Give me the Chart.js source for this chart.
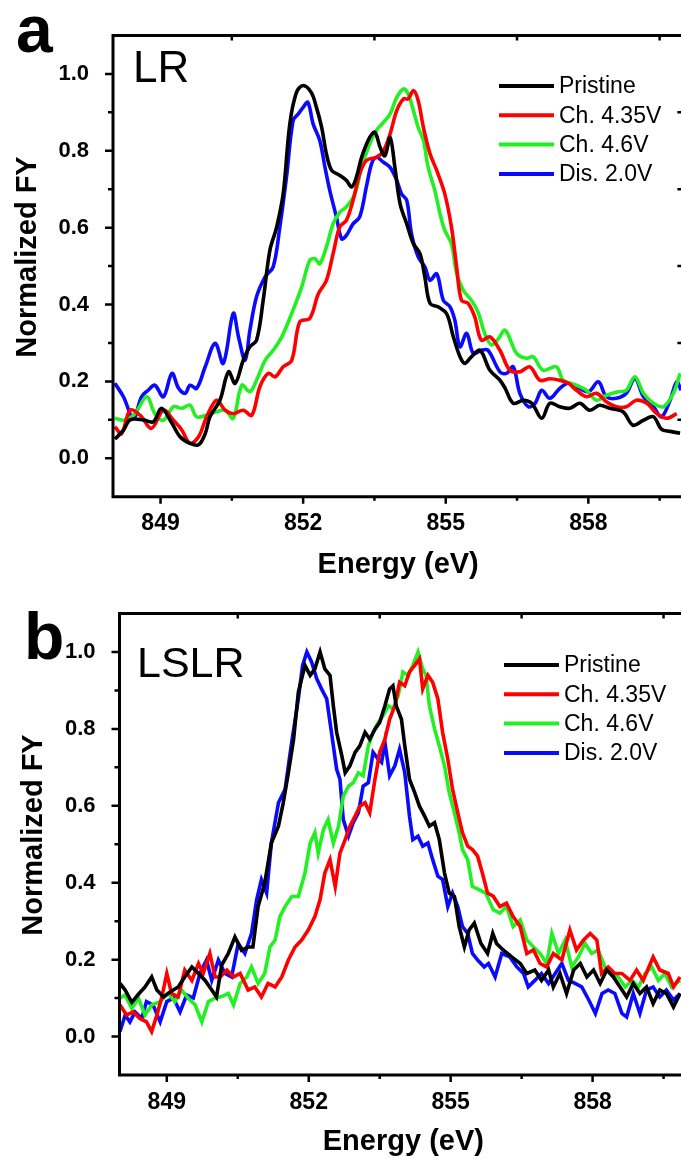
<!DOCTYPE html>
<html>
<head>
<meta charset="utf-8">
<script src="https://cdn.jsdelivr.net/npm/chart.js@4.4.1/dist/chart.umd.min.js"></script>
<style>
  html, body { margin: 0; padding: 0; background: #fff; overflow: hidden; }
  #figure { width: 681px; height: 1159px; position: relative; overflow: hidden; }
  canvas { position: absolute; left: 0; }
  #chartA { top: 0; }
  #chartB { top: 578px; }
  .panel-letter {
    position: absolute;
    font-family: "Liberation Sans", Arial, sans-serif;
    font-weight: bold;
    font-size: 66px;
    line-height: 1;
  }
</style>
</head>
<body>
<div id="figure">
  <canvas id="chartA" width="700" height="590"></canvas>
  <canvas id="chartB" width="700" height="581"></canvas>
  <div class="panel-letter" style="left:16px; top:-4px;">a</div>
  <div class="panel-letter" style="left:24px; top:603px;">b</div>
</div>

<script>
// axis ticks and labels
const energyTicks = [849, 850.5, 852, 853.5, 855, 856.5, 858, 859.5];
const energyLabels = [849, 852, 855, 858];
const fyTicks = [0, 0.1, 0.2, 0.3, 0.4, 0.5, 0.6, 0.7, 0.8, 0.9, 1.0];
const fyLabels = [0, 0.2, 0.4, 0.6, 0.8, 1.0];

const seriesNames = ["Pristine", "Ch. 4.35V", "Ch. 4.6V", "Dis. 2.0V"];
const seriesColors = ["#000000", "#ff0000", "#22f022", "#0a0aff"];

// ---- panel a : LR ----
const lrPristineE = [
  848.04, 848.22, 848.36, 848.64, 848.85, 849.02, 849.24, 849.41, 849.62, 849.80,
  849.94, 850.04, 850.25, 850.43, 850.57, 850.74, 850.88, 851.02, 851.16, 851.30,
  851.44, 851.58, 851.72, 851.86, 852.00, 852.17, 852.28, 852.39, 852.49, 852.60,
  852.77, 852.91, 853.02, 853.12, 853.23, 853.40, 853.51, 853.62, 853.72, 853.83,
  853.93, 854.04, 854.18, 854.32, 854.46, 854.56, 854.67, 854.84, 855.02, 855.16,
  855.30, 855.40, 855.54, 855.72, 855.93, 856.14, 856.25, 856.42, 856.63, 856.81,
  857.02, 857.19, 857.40, 857.61, 857.82, 858.03, 858.24, 858.45, 858.73, 858.94,
  859.16, 859.37, 859.54, 859.72, 859.93
];
const lrPristineFY = [
  0.050, 0.073, 0.100, 0.100, 0.095, 0.130, 0.091, 0.056, 0.039, 0.035,
  0.064, 0.108, 0.151, 0.225, 0.195, 0.255, 0.290, 0.307, 0.411, 0.541,
  0.600, 0.688, 0.870, 0.952, 0.970, 0.952, 0.913, 0.861, 0.792, 0.749,
  0.736, 0.723, 0.706, 0.731, 0.783, 0.835, 0.848, 0.809, 0.787, 0.835,
  0.757, 0.662, 0.610, 0.558, 0.532, 0.472, 0.403, 0.394, 0.376, 0.316,
  0.264, 0.247, 0.264, 0.281, 0.229, 0.203, 0.182, 0.143, 0.151, 0.143,
  0.104, 0.143, 0.134, 0.130, 0.143, 0.125, 0.138, 0.130, 0.121, 0.086,
  0.099, 0.108, 0.075, 0.070, 0.065
];

const lr435E = [
  848.04, 848.18, 848.36, 848.57, 848.81, 849.06, 849.27, 849.45, 849.62, 849.80,
  849.97, 850.18, 850.36, 850.53, 850.74, 850.92, 851.09, 851.27, 851.41, 851.58,
  851.76, 851.93, 852.14, 852.32, 852.49, 852.63, 852.77, 852.91, 853.05, 853.19,
  853.33, 853.54, 853.69, 853.83, 853.97, 854.11, 854.21, 854.32, 854.42, 854.53,
  854.67, 854.81, 854.98, 855.12, 855.23, 855.33, 855.47, 855.61, 855.75, 855.93,
  856.14, 856.35, 856.56, 856.77, 856.98, 857.19, 857.40, 857.58, 857.75, 857.96,
  858.17, 858.38, 858.59, 858.80, 859.01, 859.23, 859.44, 859.65, 859.86
];
const lr435FY = [
  0.082, 0.064, 0.125, 0.112, 0.078, 0.125, 0.099, 0.073, 0.039, 0.056,
  0.108, 0.151, 0.125, 0.116, 0.125, 0.112, 0.186, 0.221, 0.212, 0.238,
  0.255, 0.355, 0.364, 0.428, 0.463, 0.532, 0.602, 0.619, 0.671, 0.740,
  0.775, 0.783, 0.800, 0.844, 0.905, 0.935, 0.935, 0.957, 0.931, 0.861,
  0.792, 0.749, 0.688, 0.602, 0.497, 0.411, 0.403, 0.368, 0.307, 0.316,
  0.281, 0.229, 0.225, 0.238, 0.203, 0.207, 0.203, 0.195, 0.177, 0.160,
  0.169, 0.147, 0.134, 0.134, 0.151, 0.143, 0.116, 0.104, 0.116
];

const lr46E = [
  848.04, 848.25, 848.46, 848.71, 848.88, 849.06, 849.27, 849.45, 849.62, 849.76,
  849.97, 850.18, 850.36, 850.53, 850.71, 850.88, 851.02, 851.20, 851.37, 851.55,
  851.76, 851.97, 852.14, 852.25, 852.35, 852.49, 852.63, 852.77, 852.91, 853.09,
  853.23, 853.40, 853.54, 853.69, 853.83, 853.97, 854.11, 854.21, 854.32, 854.42,
  854.53, 854.63, 854.77, 854.88, 854.98, 855.12, 855.23, 855.37, 855.54, 855.68,
  855.82, 855.96, 856.10, 856.25, 856.49, 856.70, 856.84, 857.05, 857.33, 857.47,
  857.75, 857.96, 858.17, 858.38, 858.63, 858.80, 858.98, 859.16, 859.37, 859.58,
  859.79, 859.93
];
const lr46FY = [
  0.104, 0.099, 0.116, 0.160, 0.116, 0.099, 0.134, 0.130, 0.138, 0.108,
  0.112, 0.121, 0.125, 0.104, 0.190, 0.173, 0.203, 0.255, 0.281, 0.316,
  0.377, 0.446, 0.515, 0.519, 0.506, 0.550, 0.610, 0.640, 0.654, 0.688,
  0.757, 0.818, 0.853, 0.874, 0.896, 0.939, 0.961, 0.948, 0.905, 0.861,
  0.827, 0.757, 0.697, 0.636, 0.593, 0.558, 0.480, 0.437, 0.411, 0.380,
  0.325, 0.295, 0.310, 0.333, 0.273, 0.260, 0.264, 0.229, 0.238, 0.203,
  0.190, 0.177, 0.151, 0.164, 0.173, 0.177, 0.212, 0.169, 0.143, 0.134,
  0.169, 0.221
];

const lrDisE = [
  848.04, 848.22, 848.43, 848.60, 848.74, 848.88, 849.06, 849.24, 849.38, 849.52,
  849.62, 849.76, 849.94, 850.15, 850.32, 850.53, 850.64, 850.78, 850.88, 851.02,
  851.20, 851.37, 851.51, 851.65, 851.79, 851.90, 852.00, 852.10, 852.21, 852.35,
  852.46, 852.56, 852.70, 852.81, 852.91, 853.05, 853.19, 853.33, 853.44, 853.54,
  853.69, 853.83, 853.97, 854.07, 854.18, 854.28, 854.42, 854.56, 854.67, 854.81,
  854.95, 855.09, 855.19, 855.30, 855.44, 855.58, 855.75, 855.89, 856.14, 856.28,
  856.42, 856.56, 856.74, 856.88, 857.02, 857.19, 857.40, 857.58, 857.75, 858.00,
  858.21, 858.38, 858.59, 858.80, 858.98, 859.16, 859.37, 859.54, 859.72, 859.86,
  859.95
];
const lrDisFY = [
  0.195, 0.160, 0.104, 0.160, 0.177, 0.190, 0.160, 0.221, 0.182, 0.169,
  0.190, 0.182, 0.238, 0.299, 0.247, 0.377, 0.316, 0.255, 0.333, 0.420,
  0.472, 0.498, 0.602, 0.732, 0.879, 0.896, 0.913, 0.926, 0.870, 0.827,
  0.757, 0.697, 0.628, 0.571, 0.580, 0.610, 0.628, 0.706, 0.766, 0.783,
  0.770, 0.757, 0.723, 0.688, 0.671, 0.584, 0.524, 0.498, 0.463, 0.480,
  0.411, 0.394, 0.360, 0.290, 0.325, 0.273, 0.281, 0.281, 0.225, 0.221,
  0.238, 0.169, 0.134, 0.143, 0.177, 0.156, 0.182, 0.195, 0.186, 0.173,
  0.199, 0.160, 0.156, 0.169, 0.208, 0.160, 0.134, 0.108, 0.151, 0.199,
  0.177
];

// ---- panel b : LSLR ----
const lslrPristineE = [
  848.01, 848.12, 848.26, 848.40, 848.54, 848.68, 848.79, 848.93, 849.07, 849.24,
  849.38, 849.53, 849.67, 849.81, 849.95, 850.05, 850.16, 850.30, 850.44, 850.58,
  850.72, 850.82, 850.93, 851.07, 851.21, 851.36, 851.46, 851.57, 851.68, 851.78,
  851.92, 852.03, 852.13, 852.24, 852.34, 852.45, 852.52, 852.59, 852.70, 852.77,
  852.87, 852.98, 853.08, 853.19, 853.29, 853.40, 853.50, 853.61, 853.71, 853.78,
  853.85, 853.96, 854.03, 854.13, 854.24, 854.34, 854.45, 854.55, 854.66, 854.76,
  854.87, 854.97, 855.08, 855.18, 855.29, 855.39, 855.50, 855.64, 855.78, 855.89,
  855.97, 856.11, 856.29, 856.47, 856.61, 856.78, 856.92, 857.07, 857.17, 857.31,
  857.45, 857.60, 857.74, 857.88, 858.02, 858.16, 858.30, 858.44, 858.58, 858.72,
  858.86, 859.00, 859.14, 859.28, 859.42, 859.56, 859.71, 859.85
];
const lslrPristineFY = [
  0.138, 0.121, 0.089, 0.110, 0.129, 0.155, 0.121, 0.103, 0.116, 0.129,
  0.155, 0.181, 0.164, 0.146, 0.121, 0.103, 0.186, 0.216, 0.259, 0.224,
  0.233, 0.233, 0.338, 0.399, 0.503, 0.547, 0.607, 0.686, 0.773, 0.895,
  0.965, 0.939, 0.956, 1.000, 0.956, 0.939, 0.860, 0.791, 0.730, 0.686,
  0.704, 0.739, 0.756, 0.791, 0.773, 0.799, 0.817, 0.860, 0.904, 0.912,
  0.860, 0.825, 0.756, 0.669, 0.634, 0.599, 0.573, 0.547, 0.556, 0.512,
  0.425, 0.373, 0.364, 0.286, 0.233, 0.277, 0.295, 0.242, 0.216, 0.268,
  0.242, 0.225, 0.207, 0.190, 0.164, 0.173, 0.146, 0.173, 0.129, 0.164,
  0.112, 0.173, 0.190, 0.155, 0.173, 0.138, 0.173, 0.155, 0.129, 0.103,
  0.138, 0.112, 0.129, 0.086, 0.121, 0.112, 0.077, 0.112
];

const lslr435E = [
  848.01, 848.15, 848.29, 848.43, 848.57, 848.68, 848.79, 848.89, 849.00, 849.10,
  849.24, 849.38, 849.53, 849.67, 849.77, 849.91, 850.02, 850.13, 850.27, 850.41,
  850.55, 850.72, 850.86, 851.00, 851.14, 851.29, 851.43, 851.57, 851.71, 851.85,
  851.99, 852.13, 852.24, 852.34, 852.45, 852.56, 852.66, 852.77, 852.87, 852.98,
  853.08, 853.19, 853.29, 853.40, 853.50, 853.61, 853.71, 853.82, 853.92, 854.03,
  854.13, 854.24, 854.34, 854.41, 854.52, 854.62, 854.73, 854.83, 854.94, 855.04,
  855.15, 855.25, 855.36, 855.46, 855.57, 855.67, 855.78, 855.90, 856.04, 856.18,
  856.32, 856.47, 856.61, 856.75, 856.89, 857.03, 857.17, 857.35, 857.52, 857.66,
  857.81, 857.95, 858.09, 858.19, 858.33, 858.47, 858.62, 858.79, 858.93, 859.07,
  859.28, 859.42, 859.60, 859.71, 859.85
];
const lslr435FY = [
  0.082, 0.056, 0.064, 0.047, 0.038, 0.013, 0.056, 0.100, 0.164, 0.112,
  0.103, 0.173, 0.146, 0.190, 0.164, 0.216, 0.155, 0.155, 0.173, 0.155,
  0.164, 0.121, 0.129, 0.103, 0.138, 0.129, 0.155, 0.199, 0.233, 0.251,
  0.277, 0.312, 0.356, 0.425, 0.460, 0.390, 0.477, 0.512, 0.547, 0.573,
  0.599, 0.608, 0.582, 0.669, 0.739, 0.773, 0.825, 0.860, 0.921, 0.912,
  0.948, 0.965, 0.982, 0.904, 0.939, 0.921, 0.878, 0.791, 0.721, 0.643,
  0.582, 0.530, 0.495, 0.486, 0.469, 0.425, 0.373, 0.365, 0.338, 0.347,
  0.312, 0.286, 0.216, 0.225, 0.190, 0.181, 0.216, 0.199, 0.277, 0.225,
  0.251, 0.268, 0.251, 0.164, 0.181, 0.164, 0.164, 0.146, 0.173, 0.146,
  0.207, 0.173, 0.164, 0.129, 0.155
];

const lslr46E = [
  848.01, 848.12, 848.26, 848.40, 848.54, 848.68, 848.86, 849.03, 849.17, 849.31,
  849.45, 849.60, 849.74, 849.88, 850.02, 850.16, 850.30, 850.41, 850.55, 850.69,
  850.79, 850.93, 851.07, 851.18, 851.29, 851.39, 851.50, 851.64, 851.78, 851.92,
  852.03, 852.13, 852.20, 852.31, 852.41, 852.52, 852.63, 852.73, 852.84, 852.94,
  853.05, 853.15, 853.26, 853.36, 853.47, 853.57, 853.68, 853.78, 853.89, 853.99,
  854.10, 854.20, 854.31, 854.41, 854.48, 854.55, 854.66, 854.76, 854.87, 854.97,
  855.08, 855.18, 855.25, 855.36, 855.46, 855.60, 855.74, 855.90, 856.04, 856.18,
  856.32, 856.47, 856.61, 856.75, 856.89, 857.03, 857.14, 857.28, 857.42, 857.56,
  857.70, 857.84, 857.98, 858.12, 858.26, 858.40, 858.54, 858.69, 858.83, 858.97,
  859.11, 859.25, 859.39, 859.53, 859.67, 859.85
];
const lslr46FY = [
  0.100, 0.108, 0.073, 0.100, 0.056, 0.082, 0.091, 0.112, 0.091, 0.121,
  0.100, 0.082, 0.038, 0.091, 0.100, 0.104, 0.112, 0.082, 0.138, 0.155,
  0.181, 0.138, 0.164, 0.233, 0.251, 0.312, 0.338, 0.364, 0.364, 0.425,
  0.503, 0.530, 0.477, 0.538, 0.564, 0.503, 0.547, 0.625, 0.651, 0.660,
  0.686, 0.678, 0.756, 0.791, 0.817, 0.834, 0.860, 0.852, 0.886, 0.948,
  0.939, 0.965, 1.000, 0.956, 0.939, 0.860, 0.800, 0.756, 0.704, 0.634,
  0.582, 0.530, 0.486, 0.460, 0.390, 0.382, 0.373, 0.330, 0.321, 0.338,
  0.286, 0.303, 0.251, 0.233, 0.216, 0.190, 0.268, 0.216, 0.251, 0.181,
  0.207, 0.242, 0.216, 0.225, 0.181, 0.164, 0.155, 0.129, 0.146, 0.129,
  0.164, 0.181, 0.146, 0.164, 0.129, 0.146
];

const lslrDisE = [
  848.01, 848.12, 848.22, 848.33, 848.47, 848.57, 848.71, 848.86, 849.00, 849.14,
  849.28, 849.42, 849.56, 849.70, 849.84, 849.95, 850.09, 850.23, 850.37, 850.51,
  850.65, 850.79, 850.90, 851.00, 851.11, 851.21, 851.36, 851.50, 851.64, 851.78,
  851.87, 851.96, 852.06, 852.17, 852.27, 852.38, 852.48, 852.59, 852.66, 852.73,
  852.84, 852.94, 853.05, 853.15, 853.26, 853.36, 853.47, 853.54, 853.61, 853.71,
  853.82, 853.92, 854.03, 854.13, 854.20, 854.31, 854.41, 854.52, 854.62, 854.73,
  854.83, 854.94, 855.04, 855.15, 855.25, 855.36, 855.46, 855.57, 855.71, 855.80,
  855.94, 856.08, 856.25, 856.40, 856.54, 856.64, 856.78, 856.92, 857.07, 857.21,
  857.35, 857.49, 857.63, 857.77, 857.92, 858.06, 858.20, 858.33, 858.47, 858.62,
  858.72, 858.86, 859.00, 859.14, 859.28, 859.42, 859.56, 859.71, 859.85
];
const lslrDisFY = [
  0.013, 0.056, 0.038, 0.064, 0.047, 0.091, 0.082, 0.038, 0.091, 0.100,
  0.064, 0.108, 0.100, 0.164, 0.199, 0.146, 0.199, 0.164, 0.155, 0.242,
  0.216, 0.268, 0.356, 0.408, 0.373, 0.503, 0.608, 0.643, 0.765, 0.878,
  0.965, 1.000, 0.974, 0.930, 0.904, 0.878, 0.791, 0.695, 0.669, 0.564,
  0.521, 0.556, 0.582, 0.651, 0.660, 0.739, 0.721, 0.713, 0.765, 0.678,
  0.704, 0.747, 0.686, 0.573, 0.512, 0.521, 0.495, 0.503, 0.460, 0.417,
  0.408, 0.338, 0.373, 0.338, 0.286, 0.268, 0.216, 0.199, 0.181, 0.190,
  0.155, 0.216, 0.207, 0.181, 0.164, 0.129, 0.146, 0.164, 0.138, 0.164,
  0.190, 0.146, 0.138, 0.129, 0.095, 0.060, 0.112, 0.121, 0.112, 0.060,
  0.051, 0.112, 0.060, 0.121, 0.129, 0.103, 0.121, 0.095, 0.112
];

const FONT = '"Liberation Sans", Arial, sans-serif';

function toPoints(xs, ys) {
  return xs.map((x, i) => ({ x: x, y: ys[i] }));
}

function isIn(list, v) {
  return list.some((l) => Math.abs(l - v) < 1e-6);
}

// frame, mirrored ticks, y title, sample tag and legend
const panelDecor = {
  id: "panelDecor",
  afterDraw(chart, args, opts) {
    const ctx = chart.ctx;
    const a = chart.chartArea;
    const xs = chart.scales.x;
    const ys = chart.scales.y;
    ctx.save();
    ctx.strokeStyle = "#000";
    ctx.lineWidth = 3;
    // left, bottom and top edges; the right edge falls past the page
    ctx.beginPath();
    ctx.moveTo(a.right + 2, a.top);
    ctx.lineTo(a.left, a.top);
    ctx.lineTo(a.left, a.bottom);
    ctx.lineTo(a.right + 2, a.bottom);
    ctx.stroke();

    ctx.lineWidth = 2.5;
    ctx.beginPath();
    xs.ticks.forEach((t) => {
      const px = xs.getPixelForValue(t.value);
      const major = isIn(energyLabels, t.value);
      ctx.moveTo(px, a.bottom);
      ctx.lineTo(px, a.bottom + (major ? 7 : 4));
      if (!major) {
        ctx.moveTo(px, a.top);
        ctx.lineTo(px, a.top + 5);
      }
    });
    ys.ticks.forEach((t) => {
      const py = ys.getPixelForValue(t.value);
      const major = isIn(fyLabels, t.value);
      ctx.moveTo(a.left, py);
      ctx.lineTo(a.left - (major ? 8 : 5), py);
      if (!major) {
        ctx.moveTo(a.right, py);
        ctx.lineTo(a.right - 6, py);
      }
    });
    ctx.stroke();

    ctx.fillStyle = "#000";

    // y axis title, rotated
    ctx.save();
    ctx.translate(opts.yTitleX, opts.yTitleY);
    ctx.rotate(-Math.PI / 2);
    ctx.font = "bold 29px " + FONT;
    ctx.textAlign = "center";
    ctx.textBaseline = "middle";
    ctx.fillText("Normalized FY", 0, 0);
    ctx.restore();

    ctx.textAlign = "left";
    ctx.textBaseline = "alphabetic";
    ctx.font = opts.tagSize + "px " + FONT;
    ctx.fillText(opts.tag, a.left + opts.tagX, a.top + opts.tagY);

    ctx.font = "23px " + FONT;
    ctx.textBaseline = "middle";
    chart.data.datasets.forEach((ds, i) => {
      const y = a.top + opts.legendY + i * 29.3;
      const x = a.left + opts.legendX;
      ctx.strokeStyle = ds.borderColor;
      ctx.lineWidth = 4;
      ctx.beginPath();
      ctx.moveTo(x, y);
      ctx.lineTo(x + 55, y);
      ctx.stroke();
      ctx.fillStyle = "#000";
      ctx.fillText(ds.label, x + 60, y + 1);
    });
    ctx.restore();
  },
};

function makePanel(canvasId, sets, p) {
  const canvas = document.getElementById(canvasId);
  const W = canvas.width;
  const H = canvas.height;
  return new Chart(canvas.getContext("2d"), {
    type: "line",
    data: {
      datasets: sets.map((s, i) => ({
        label: seriesNames[i],
        data: toPoints(s[0], s[1]),
        borderColor: seriesColors[i],
        borderWidth: p.lineWidth,
        pointRadius: 0,
        tension: p.tension,
        fill: false,
      })),
    },
    options: {
      responsive: false,
      animation: false,
      devicePixelRatio: 1,
      layout: { padding: { left: 0, top: p.top, right: W - p.right, bottom: 0 } },
      plugins: {
        legend: { display: false },
        tooltip: { enabled: false },
        panelDecor: {
          tag: p.tag,
          tagSize: p.tagSize,
          tagX: p.tagX,
          tagY: p.tagY,
          legendX: p.legendX,
          legendY: p.legendY,
          yTitleX: p.yTitleX,
          yTitleY: p.yTitleY,
        },
      },
      scales: {
        x: {
          type: "linear",
          min: 848,
          max: 860,
          grid: { display: false },
          border: { display: false },
          afterBuildTicks: (s) => {
            s.ticks = energyTicks.map((v) => ({ value: v }));
          },
          afterFit: (s) => {
            s.height = H - p.bottom;
          },
          ticks: {
            autoSkip: false,
            maxRotation: 0,
            padding: p.xTickPad,
            color: "#000",
            font: { family: FONT, size: 23, weight: "bold" },
            callback: (v) => (isIn(energyLabels, v) ? String(v) : ""),
          },
          title: {
            display: true,
            text: "Energy (eV)",
            color: "#000",
            font: { family: FONT, size: 29, weight: "bold" },
            padding: { top: 0, bottom: p.xTitlePad },
          },
        },
        y: {
          min: -0.1,
          max: 1.1,
          grid: { display: false },
          border: { display: false },
          afterBuildTicks: (s) => {
            s.ticks = fyTicks.map((v) => ({ value: v }));
          },
          afterFit: (s) => {
            s.width = p.left;
          },
          ticks: {
            autoSkip: false,
            padding: 16,
            color: "#000",
            font: { family: FONT, size: 22, weight: "bold" },
            callback: (v) => (isIn(fyLabels, v) ? v.toFixed(1) : ""),
          },
        },
      },
    },
    plugins: [panelDecor],
  });
}

makePanel(
  "chartA",
  [
    [lrPristineE, lrPristineFY],
    [lr435E, lr435FY],
    [lr46E, lr46FY],
    [lrDisE, lrDisFY],
  ],
  {
    left: 113, right: 683.4, top: 35.5, bottom: 496.7,
    tension: 0.35, lineWidth: 3.6,
    xTickPad: 5, xTitlePad: 8,
    yTitleX: 28, yTitleY: 257,
    tag: "LR", tagSize: 44, tagX: 20, tagY: 46.5,
    legendX: 386, legendY: 50.5,
  }
);

makePanel(
  "chartB",
  [
    [lslrPristineE, lslrPristineFY],
    [lslr435E, lslr435FY],
    [lslr46E, lslr46FY],
    [lslrDisE, lslrDisFY],
  ],
  {
    left: 119.5, right: 687.2, top: 35.5, bottom: 497,
    tension: 0, lineWidth: 3.6,
    xTickPad: 6, xTitlePad: 0,
    yTitleX: 34, yTitleY: 257,
    tag: "LSLR", tagSize: 43, tagX: 17.5, tagY: 63,
    legendX: 384.5, legendY: 51.5,
  }
);
</script>
</body>
</html>
